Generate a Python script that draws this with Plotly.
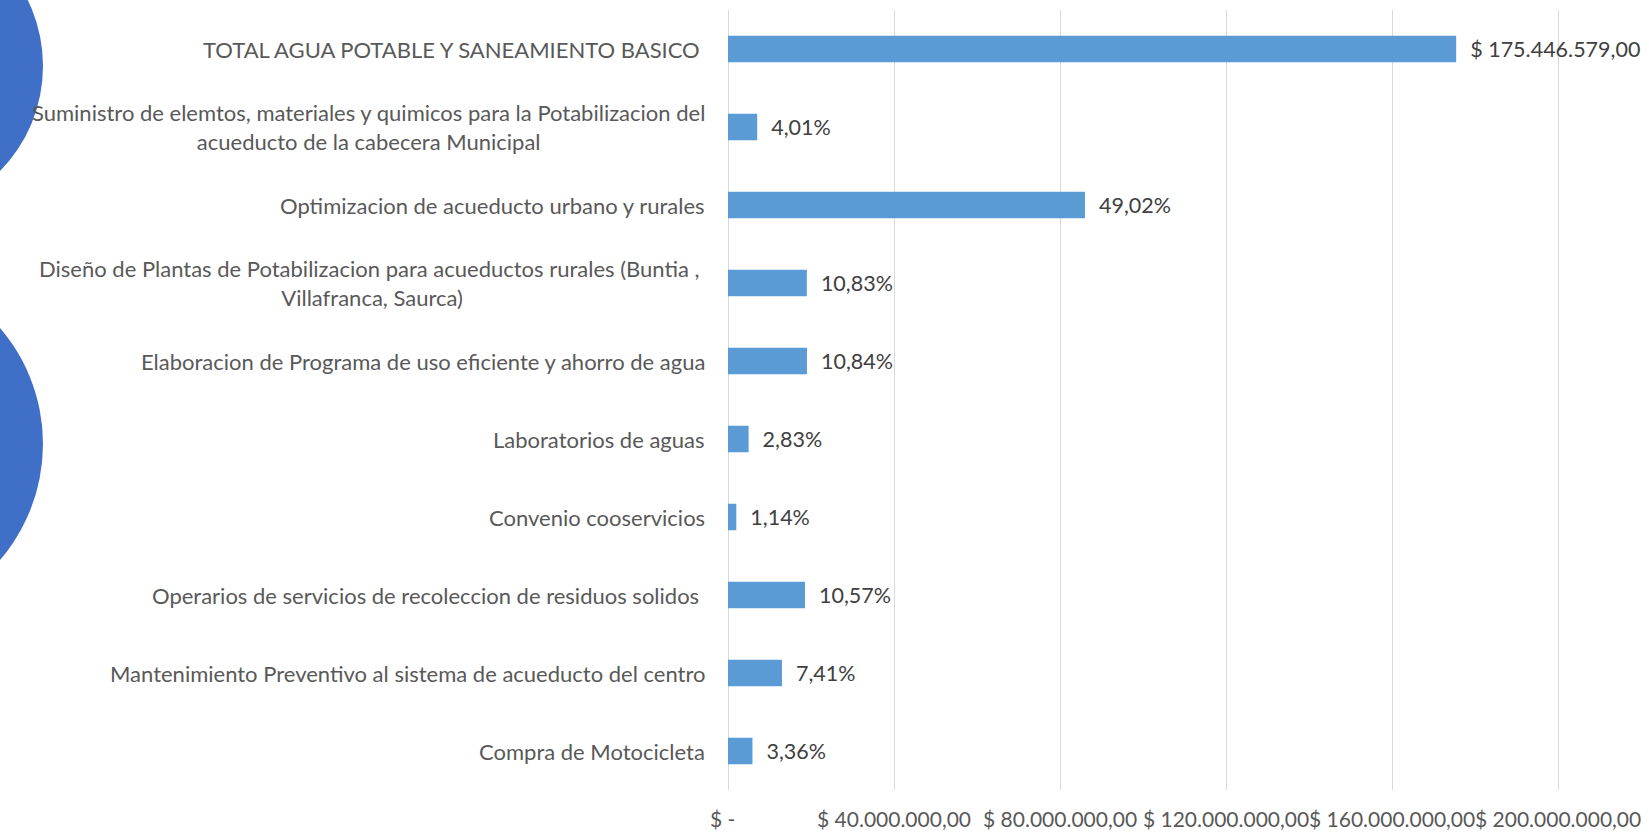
import plotly.graph_objects as go

# ---------------- data ----------------
categories = [
    "TOTAL AGUA POTABLE Y SANEAMIENTO BASICO\u00a0",
    "Suministro de elemtos, materiales y quimicos para la Potabilizacion del<br>acueducto de la cabecera Municipal",
    "Optimizacion de acueducto urbano y rurales",
    "Diseño de Plantas de Potabilizacion para acueductos rurales (Buntia ,\u00a0<br>Villafranca, Saurca)",
    "Elaboracion de Programa de uso eficiente y ahorro de agua",
    "Laboratorios de aguas",
    "Convenio cooservicios",
    "Operarios de servicios de recoleccion de residuos solidos\u00a0",
    "Mantenimiento Preventivo al sistema de acueducto del centro",
    "Compra de Motocicleta",
]
values = [175446579, 7035000, 86004000, 19001000, 19018000,
          4965000, 2000000, 18545000, 13001000, 5895000]
value_labels = ["$ 175.446.579,00", "4,01%", "49,02%", "10,83%", "10,84%",
                "2,83%", "1,14%", "10,57%", "7,41%", "3,36%"]
tick_vals = [0, 40000000, 80000000, 120000000, 160000000, 200000000]
tick_text = ["$ -\u00a0\u00a0", "$ 40.000.000,00", "$ 80.000.000,00", "$ 120.000.000,00",
             "$ 160.000.000,00", "$ 200.000.000,00"]

# ---------------- layout geometry ----------------
W, H = 1649, 832
L, R, T, B = 728, 88, 10, 42
PW, PH = W - L - R, H - T - B
FONT = "Lato"

def px(x):
    return (x - L) / PW

def py(y):
    return (H - B - y) / PH

ids = [f"c{i}" for i in range(len(categories))]

fig = go.Figure()
fig.add_trace(go.Bar(
    y=ids, x=values, orientation="h",
    marker=dict(color="#5b9bd5", line=dict(width=0)),
    text=["\u00a0\u00a0" + t for t in value_labels],
    textposition="outside",
    textfont=dict(family=FONT, size=21.5, color="#404040"),
    constraintext="none",
    cliponaxis=False,
    hoverinfo="skip",
))

annotations = []
for i, lab in zip(ids, categories):
    annotations.append(dict(
        xref="paper", yref="y", x=0, y=i, xanchor="right", yanchor="middle",
        xshift=-21, text=lab, showarrow=False, align="center",
        font=dict(family=FONT, size=22, color="#595959"),
    ))

shapes = [
    dict(type="circle", xref="paper", yref="paper", layer="below",
         x0=px(-257), x1=px(43), y0=py(216), y1=py(-84),
         fillcolor="#3f6fc6", line=dict(width=0)),
    dict(type="circle", xref="paper", yref="paper", layer="below",
         x0=px(-313), x1=px(43), y0=py(622), y1=py(266),
         fillcolor="#3f6fc6", line=dict(width=0)),
]

fig.update_layout(
    width=W, height=H,
    margin=dict(l=L, r=R, t=T, b=B, pad=0, autoexpand=False),
    paper_bgcolor="white", plot_bgcolor="white",
    showlegend=False,
    bargap=0.66,
    annotations=annotations,
    shapes=shapes,
    xaxis=dict(
        range=[0, 200700000],
        tickmode="array", tickvals=tick_vals, ticktext=tick_text,
        tickangle=0,
        showgrid=True, gridcolor="#d9d9d9", gridwidth=1,
        zeroline=True, zerolinecolor="#d9d9d9", zerolinewidth=1,
        showline=False,
        ticks="outside", ticklen=11, tickcolor="rgba(0,0,0,0)",
        tickfont=dict(family=FONT, size=21, color="#595959"),
        fixedrange=True,
    ),
    yaxis=dict(
        categoryorder="array", categoryarray=ids,
        autorange="reversed",
        showticklabels=False, showgrid=False, zeroline=False, showline=False,
        fixedrange=True,
    ),
)

fig.write_html("out.html", config={"displayModeBar": False},
               post_script="document.body.style.margin='0';")
